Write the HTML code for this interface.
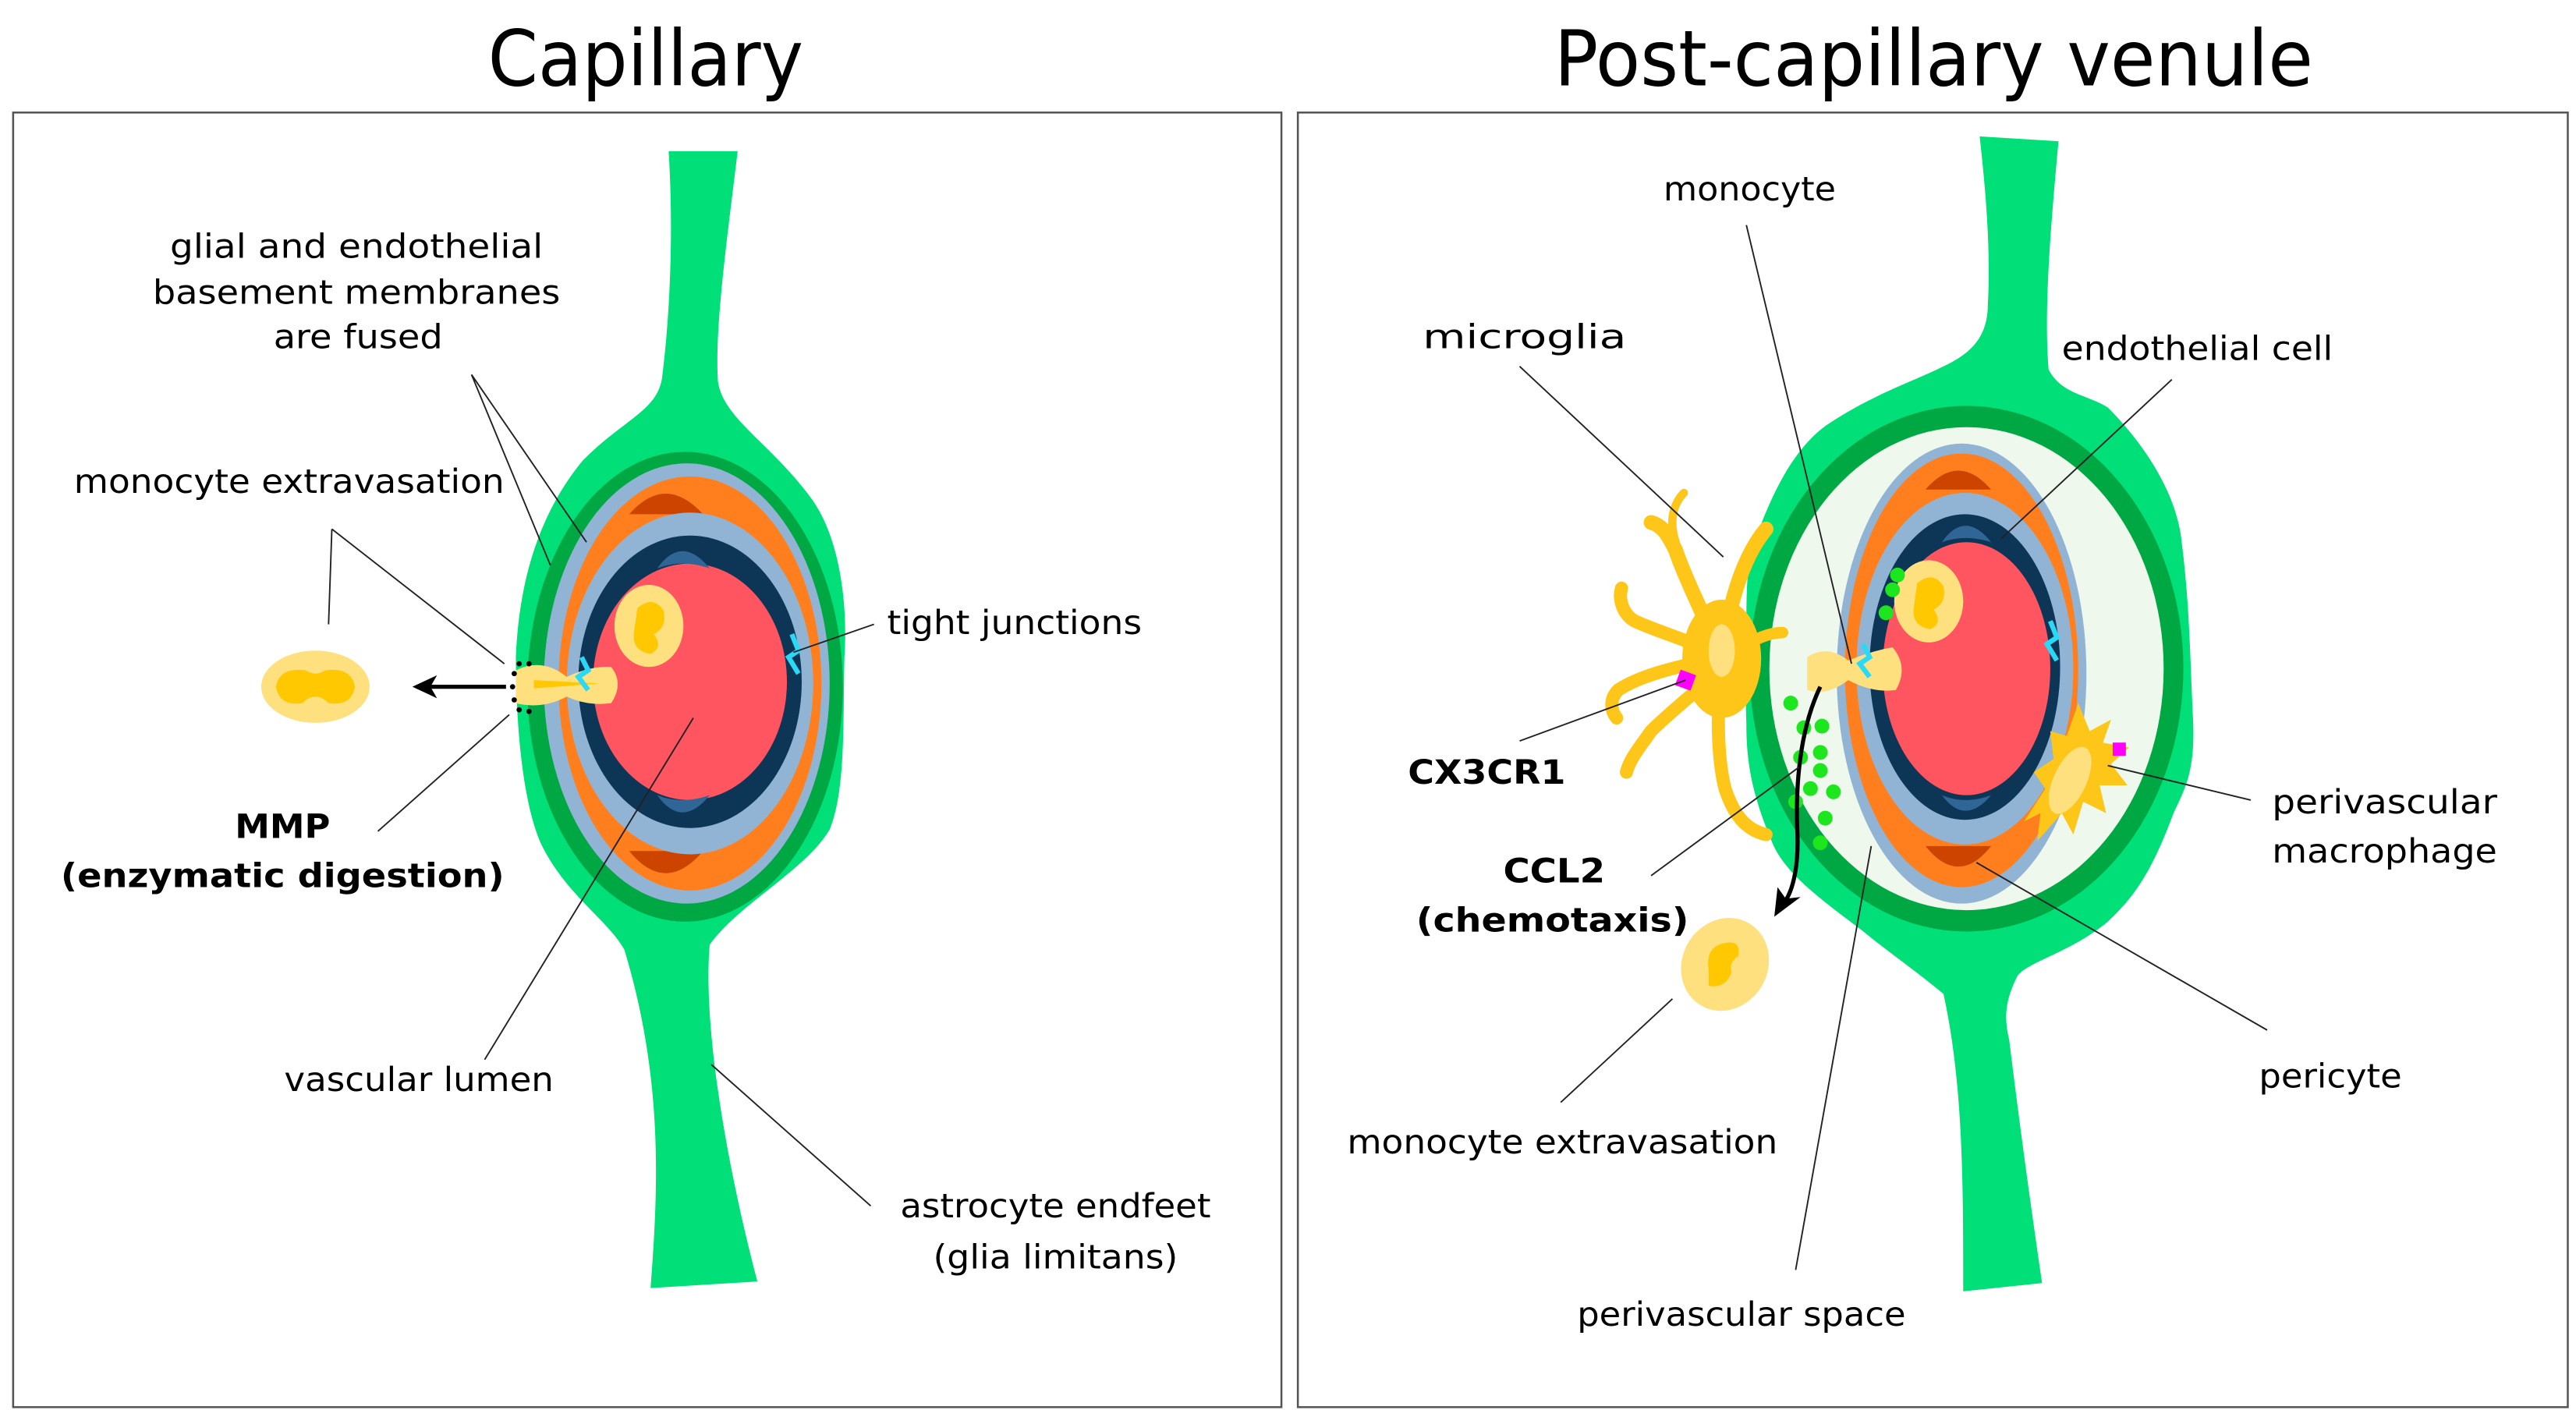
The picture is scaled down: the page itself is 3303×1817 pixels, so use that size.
<!DOCTYPE html>
<html><head><meta charset="utf-8"><style>html,body{margin:0;padding:0;background:#fff}svg{display:block}</style></head>
<body>
<svg width="3303" height="1817" viewBox="0 0 1568 862.5" preserveAspectRatio="none" xmlns="http://www.w3.org/2000/svg" font-family="'DejaVu Sans','Liberation Sans',sans-serif">
<rect x="0" y="0" width="1568" height="862.5" fill="#fff"/>
<text x="393" y="52" font-size="47" text-anchor="middle" textLength="192" lengthAdjust="spacingAndGlyphs">Capillary</text>
<text x="1177" y="52" font-size="47" text-anchor="middle" textLength="462" lengthAdjust="spacingAndGlyphs">Post-capillary venule</text>
<rect x="8" y="68.5" width="772" height="788" fill="none" stroke="#555" stroke-width="1.2"/>
<rect x="790" y="68.5" width="773" height="788" fill="none" stroke="#555" stroke-width="1.2"/>

<!-- LEFT -->
<path d="M407,92 L449,92 C442,150 435,200 437,232 C440,255 470,270 495,305 C512,330 516,370 514,400 C513,440 515,480 505,505 C490,530 450,550 432,575 C428,620 440,700 461,780 L396,784 C400,730 405,660 380,578 C370,560 345,545 330,515 C318,490 314,440 314,400 C316,350 330,310 355,280 C380,255 400,250 403,230 C408,190 410,140 407,92 Z" fill="#00df78"/>
<ellipse cx="417" cy="418" rx="96" ry="143" fill="#00a843"/>
<ellipse cx="418" cy="416" rx="87" ry="134" fill="#92b4d4"/>
<ellipse cx="420" cy="416" rx="80" ry="126" fill="#ff7f1e"/>
<path d="M383,313 Q405,288 428,313 Z" fill="#cc4400"/>
<path d="M383,518 Q405,545 428,518 Z" fill="#cc4400"/>
<ellipse cx="420" cy="416" rx="75" ry="104" fill="#92b4d4"/>
<ellipse cx="420" cy="415" rx="68" ry="89" fill="#0d3556"/>
<ellipse cx="420" cy="415" rx="59" ry="72" fill="#ff5560"/>
<path d="M400,346 Q415,325 432,346 Q415,340 400,346 Z" fill="#2f6696"/>
<path d="M400,484 Q415,490 432,484 Q415,505 400,484 Z" fill="#2f6696"/>
<ellipse cx="395" cy="381" rx="21" ry="25" fill="#ffe07f"/>
<path d="M388,370 Q398,362 404,372 Q406,382 398,386 Q404,394 396,398 Q384,396 386,384 Z" fill="#ffc800"/>
<path d="M314,408 Q330,400 345,412 Q360,405 372,406 Q380,416 372,428 Q358,430 345,424 Q330,432 314,428 Z" fill="#ffe07f"/>
<path d="M325,414 L365,416 L325,419 Z" fill="#ffc800"/>
<path d="M354,400 L358,408 L352,412 L358,420" stroke="#29d9f5" stroke-width="3" fill="none"/>
<path d="M482,386 L486,396 L480,400 L486,410" stroke="#29d9f5" stroke-width="3" fill="none"/>
<g fill="#000"><circle cx="316" cy="404" r="1.6"/><circle cx="322" cy="404" r="1.6"/><circle cx="313" cy="410" r="1.6"/><circle cx="312" cy="418" r="1.6"/><circle cx="313" cy="426" r="1.6"/><circle cx="316" cy="432" r="1.6"/><circle cx="322" cy="433" r="1.6"/></g>
<line x1="308" y1="418" x2="262" y2="418" stroke="#000" stroke-width="2.5"/>
<path d="M251,418 L266,411 L262,418 L266,425 Z" fill="#000"/>
<ellipse cx="192" cy="418" rx="33" ry="22" fill="#ffe07f"/>
<path d="M168,418 Q170,406 186,408 Q192,412 198,408 Q214,406 216,418 Q214,430 200,428 Q192,420 184,428 Q170,430 168,418 Z" fill="#ffc800"/>
<g stroke="#222" stroke-width="0.9" fill="none">
<path d="M287,228 L335,344 M287,228 L357,330"/>
<path d="M202,322 L200,380 M202,322 L307,404"/>
<path d="M310,435 L230,506"/>
<path d="M295,645 L422,437"/>
<path d="M483,397 L532,380"/>
<path d="M433,648 L530,734"/>
</g>
<g font-size="20.5">
<text x="217" y="157" text-anchor="middle" textLength="227" lengthAdjust="spacingAndGlyphs">glial and endothelial</text>
<text x="217" y="185" text-anchor="middle" textLength="248" lengthAdjust="spacingAndGlyphs">basement membranes</text>
<text x="218" y="212" text-anchor="middle" textLength="103" lengthAdjust="spacingAndGlyphs">are fused</text>
<text x="45" y="300" textLength="262" lengthAdjust="spacingAndGlyphs">monocyte extravasation</text>
<text x="172" y="510" text-anchor="middle" font-weight="bold" textLength="58" lengthAdjust="spacingAndGlyphs">MMP</text>
<text x="37" y="540" font-weight="bold" textLength="270" lengthAdjust="spacingAndGlyphs">(enzymatic digestion)</text>
<text x="173" y="664" textLength="164" lengthAdjust="spacingAndGlyphs">vascular lumen</text>
<text x="540" y="386" textLength="155" lengthAdjust="spacingAndGlyphs">tight junctions</text>
<text x="548" y="741" textLength="189" lengthAdjust="spacingAndGlyphs">astrocyte endfeet</text>
<text x="568" y="772" textLength="149" lengthAdjust="spacingAndGlyphs">(glia limitans)</text>
</g>

<!-- RIGHT -->
<path d="M1205,83 L1253,86 C1248,140 1244,190 1247,225 C1255,240 1270,240 1283,248 C1305,270 1325,300 1328,330 C1333,370 1333,400 1335,440 C1336,470 1330,480 1323,495 C1310,530 1300,545 1283,561 C1260,580 1235,585 1228,594 C1220,610 1220,620 1223,633 C1230,690 1237,740 1243,781 L1195,786 C1195,720 1195,660 1183,605 C1165,590 1150,580 1133,566 C1105,545 1085,530 1078,511 C1065,480 1063,460 1063,440 C1062,410 1063,395 1063,385 C1063,360 1063,345 1068,330 C1080,295 1095,270 1113,258 C1140,240 1165,232 1183,223 C1200,215 1210,205 1210,185 C1212,150 1208,110 1205,83 Z" fill="#00df78"/>
<ellipse cx="1197" cy="407" rx="132" ry="160" fill="#00a843"/>
<ellipse cx="1197" cy="407" rx="120" ry="147" fill="#eef8ec"/>
<ellipse cx="1194" cy="410" rx="76" ry="140" fill="#92b4d4"/>
<ellipse cx="1194" cy="408" rx="71" ry="132" fill="#ff7f1e"/>
<path d="M1172,298 Q1192,275 1212,298 Z" fill="#cc4400"/>
<path d="M1172,515 Q1192,540 1212,515 Z" fill="#cc4400"/>
<ellipse cx="1196" cy="407" rx="66" ry="107" fill="#92b4d4"/>
<ellipse cx="1196" cy="406" rx="58" ry="93" fill="#0d3556"/>
<ellipse cx="1197" cy="407" rx="51" ry="77" fill="#ff5560"/>
<path d="M1182,330 Q1196,310 1212,330 Q1196,325 1182,330 Z" fill="#2f6696"/>
<path d="M1182,484 Q1196,490 1212,484 Q1196,503 1182,484 Z" fill="#2f6696"/>
<ellipse cx="1174" cy="366" rx="21" ry="25" fill="#ffe07f"/>
<path d="M1167,355 Q1177,347 1183,357 Q1185,367 1177,371 Q1183,379 1175,383 Q1163,381 1165,369 Z" fill="#ffc800"/>
<path d="M1100,400 Q1112,392 1125,402 Q1140,396 1152,394 Q1162,406 1154,420 Q1140,422 1125,414 Q1112,424 1100,420 Z" fill="#ffe07f"/>
<path d="M1134,392 L1138,400 L1132,404 L1138,412" stroke="#29d9f5" stroke-width="3" fill="none"/>
<path d="M1248,378 L1252,388 L1246,392 L1252,402" stroke="#29d9f5" stroke-width="3" fill="none"/>
<!-- microglia -->
<g fill="none" stroke="#ffc61a" stroke-linecap="round">
<path d="M1048,400 C1035,370 1025,350 1020,335 C1015,325 1012,320 1005,318" stroke-width="9"/>
<path d="M1048,400 C1052,370 1060,340 1075,322" stroke-width="9"/>
<path d="M1048,400 C1030,390 1010,385 995,378 C988,374 985,365 987,358" stroke-width="8"/>
<path d="M1048,400 C1025,405 1000,410 985,420 C980,425 980,432 984,437" stroke-width="8"/>
<path d="M1048,405 C1035,420 1020,430 1005,445 C998,455 992,462 990,470" stroke-width="8"/>
<path d="M1048,405 C1045,430 1045,460 1050,480 C1055,495 1062,505 1075,508" stroke-width="8"/>
<path d="M1048,400 C1060,395 1072,385 1085,385" stroke-width="7"/>
<path d="M1020,330 C1015,315 1020,305 1025,300" stroke-width="5"/>
</g>
<ellipse cx="1048" cy="401" rx="24" ry="36" fill="#ffc61a"/>
<ellipse cx="1048" cy="396" rx="8" ry="16" fill="#ffe07f"/>
<rect x="1021" y="409" width="10" height="10" fill="#ff00ff" transform="rotate(20 1026 414)"/>
<!-- macrophage -->
<path d="M1265,428 L1272,445 L1285,438 L1280,452 L1296,455 L1285,465 L1295,478 L1278,478 L1282,495 L1268,488 L1262,508 L1255,495 L1240,512 L1242,495 L1232,500 L1245,480 L1238,470 L1250,462 L1248,445 L1258,448 Z" fill="#ffc61a"/>
<ellipse cx="1260" cy="475" rx="10" ry="22" fill="#ffe07f" transform="rotate(25 1260 475)"/>
<rect x="1286" y="452" width="8" height="8" fill="#ff00ff"/>
<!-- CCL2 dots -->
<g fill="#1ee61e">
<circle cx="1155" cy="350" r="4.5"/><circle cx="1152" cy="359" r="4.5"/><circle cx="1148" cy="373" r="4.5"/>
<circle cx="1090" cy="428" r="4.5"/><circle cx="1098" cy="443" r="4.5"/><circle cx="1109" cy="442" r="4.5"/>
<circle cx="1096" cy="461" r="4.5"/><circle cx="1108" cy="458" r="4.5"/><circle cx="1108" cy="469" r="4.5"/>
<circle cx="1102" cy="480" r="4.5"/><circle cx="1116" cy="482" r="4.5"/><circle cx="1093" cy="488" r="4.5"/>
<circle cx="1111" cy="498" r="4.5"/><circle cx="1108" cy="513" r="4.5"/>
</g>
<path d="M1108,418 C1095,445 1093,480 1094,505 C1095,525 1092,540 1087,548" stroke="#000" stroke-width="2.5" fill="none"/>
<path d="M1080,558 L1082,540 L1087,547 L1096,546 Z" fill="#000"/>
<ellipse cx="1050" cy="587" rx="26" ry="29" fill="#ffe07f" transform="rotate(30 1050 587)"/>
<path d="M1040,590 Q1038,576 1050,574 Q1060,572 1058,582 Q1052,586 1054,592 Q1050,602 1040,600 Z" fill="#ffc800"/>
<g stroke="#222" stroke-width="0.9" fill="none">
<path d="M1063,137 L1127,404"/>
<path d="M925,223 L1049,339"/>
<path d="M1322,231 L1218,328"/>
<path d="M925,451 L1026,414"/>
<path d="M1005,533 L1095,467"/>
<path d="M1370,487 L1283,466"/>
<path d="M1380,627 L1203,525"/>
<path d="M950,671 L1018,608"/>
<path d="M1093,773 L1139,515"/>
</g>
<g font-size="20.5">
<text x="1065" y="122" text-anchor="middle" textLength="105" lengthAdjust="spacingAndGlyphs">monocyte</text>
<text x="866" y="212" textLength="124" lengthAdjust="spacingAndGlyphs">microglia</text>
<text x="1255" y="219" textLength="165" lengthAdjust="spacingAndGlyphs">endothelial cell</text>
<text x="857" y="477" font-weight="bold" textLength="96" lengthAdjust="spacingAndGlyphs">CX3CR1</text>
<text x="946" y="537" text-anchor="middle" font-weight="bold" textLength="62" lengthAdjust="spacingAndGlyphs">CCL2</text>
<text x="862" y="567" font-weight="bold" textLength="166" lengthAdjust="spacingAndGlyphs">(chemotaxis)</text>
<text x="1383" y="495" textLength="137" lengthAdjust="spacingAndGlyphs">perivascular</text>
<text x="1383" y="525" textLength="137" lengthAdjust="spacingAndGlyphs">macrophage</text>
<text x="1375" y="662" textLength="87" lengthAdjust="spacingAndGlyphs">pericyte</text>
<text x="820" y="702" textLength="262" lengthAdjust="spacingAndGlyphs">monocyte extravasation</text>
<text x="960" y="807" textLength="200" lengthAdjust="spacingAndGlyphs">perivascular space</text>
</g>
</svg>
</body></html>
